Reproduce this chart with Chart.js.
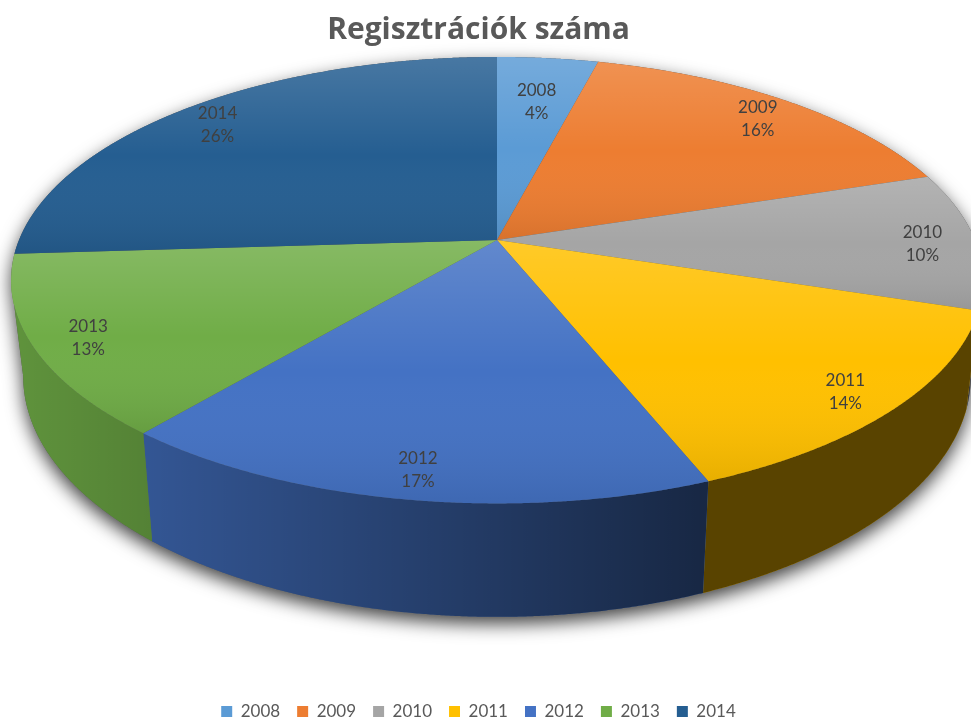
<!DOCTYPE html>
<html><head><meta charset="utf-8">
<script src="https://cdn.jsdelivr.net/npm/chart.js@4.4.1/dist/chart.umd.min.js"></script>
<style>html,body{margin:0;padding:0;background:#fff;overflow:hidden}#wrap{width:971px;height:720px;position:relative}</style>
</head><body><div id="wrap"><canvas id="c" width="971" height="720"></canvas></div>
<script>
// ---- data ----
const categories = ['2008', '2009', '2010', '2011', '2012', '2013', '2014'];
const shares = [4, 16, 10, 14, 17, 13, 26]; // percent of registrations
const sliceColors = ['#5B9BD5', '#ED7D31', '#A5A5A5', '#FFC000', '#4472C4', '#70AD47', '#255E91'];
const chartTitle = 'Regisztrációk száma';

// ---- 3D perspective projection applied to the arcs computed by Chart.js ----
const PROJ = {cx: 497, cy: 240, rx: 478, ry: 216, k: 0.18, depth: 93, bottomShrink: 0.975,
              labelR: 0.89, smallLabelR: 0.75, labelDy: 4};

function project(ang, r, t) {
  const u = r * Math.cos(ang), v = r * Math.sin(ang);
  const s = 1 / (1 - PROJ.k * v);
  const m = 1 - (1 - PROJ.bottomShrink) * t;
  return {x: PROJ.cx + PROJ.rx * u * s * m, y: PROJ.cy + PROJ.ry * v * s + PROJ.depth * s * t};
}
function rimPath(ctx, a0, a1, t, first) {
  const n = Math.max(2, Math.ceil(Math.abs(a1 - a0) / 0.004));
  for (let i = 0; i <= n; i++) {
    const a = a0 + (a1 - a0) * i / n;
    const p = project(a, 1, t);
    if (first && i === 0) ctx.moveTo(p.x, p.y); else ctx.lineTo(p.x, p.y);
  }
}

const pie3d = {
  id: 'pie3d',
  beforeDatasetDraw() { return false; },
  afterDatasetsDraw(chart) {
    const ctx = chart.ctx;
    const meta = chart.getDatasetMeta(0);
    const arcs = meta.data.map((el, i) => {
      const p = el.getProps(['startAngle', 'endAngle'], true);
      return {a0: p.startAngle, a1: p.endAngle, color: el.options.backgroundColor, i};
    });
    const tA = Math.asin(PROJ.k);          // silhouette tangent angles
    const tB = Math.PI - tA;
    ctx.save();
    // soft shadow under the body
    ctx.save();
    ctx.shadowColor = 'rgba(0,0,0,0.75)';
    ctx.shadowBlur = 18;
    ctx.shadowOffsetY = 7;
    ctx.fillStyle = '#555';
    ctx.beginPath();
    rimPath(ctx, tA, tB - 2 * Math.PI, 0, true);
    rimPath(ctx, tB, tA, 1, false);
    ctx.closePath();
    ctx.fill();
    ctx.restore();
    // side walls (visible front part only)
    const sideShade = ctx.createLinearGradient(12, 0, 700, 0);
    sideShade.addColorStop(0, 'rgba(0,0,0,0.15)');
    sideShade.addColorStop(1, 'rgba(0,0,0,0.65)');
    arcs.forEach(a => {
      const lo = Math.max(a.a0, tA), hi = Math.min(a.a1, tB);
      if (hi <= lo) return;
      ctx.beginPath();
      rimPath(ctx, lo, hi, 0, true);
      rimPath(ctx, hi, lo, 1, false);
      ctx.closePath();
      ctx.fillStyle = a.color; ctx.fill();
      ctx.fillStyle = sideShade; ctx.fill();
    });
    // top faces
    const c = project(0, 0, 0);
    arcs.forEach(a => {
      ctx.beginPath();
      ctx.moveTo(c.x, c.y);
      rimPath(ctx, a.a0, a.a1, 0, false);
      ctx.closePath();
      let ymin = c.y, ymax = c.y;
      for (let j = 0; j <= 60; j++) {
        const p = project(a.a0 + (a.a1 - a.a0) * j / 60, 1, 0);
        ymin = Math.min(ymin, p.y); ymax = Math.max(ymax, p.y);
      }
      ctx.fillStyle = a.color; ctx.fill();
      const g = ctx.createLinearGradient(0, ymin, 0, ymax);
      g.addColorStop(0, 'rgba(255,255,255,0.16)');
      g.addColorStop(0.5, 'rgba(255,255,255,0)');
      g.addColorStop(1, 'rgba(0,0,0,0.09)');
      ctx.fillStyle = g; ctx.fill();
    });
    // data labels
    ctx.fillStyle = '#404040';
    ctx.font = '17px Lato';
    ctx.textAlign = 'center';
    ctx.textBaseline = 'middle';
    const data = chart.data.datasets[0].data;
    arcs.forEach(a => {
      const mid = (a.a0 + a.a1) / 2;
      const r = (a.a1 - a.a0) < 0.35 ? PROJ.smallLabelR : PROJ.labelR;
      const p = project(mid, r, 0);
      ctx.fillText(chart.data.labels[a.i], p.x, p.y + PROJ.labelDy - 11.5);
      ctx.fillText(data[a.i] + '%', p.x, p.y + PROJ.labelDy + 11.5);
    });
    ctx.restore();
  }
};

new Chart(document.getElementById('c'), {
  type: 'pie',
  data: {
    labels: categories,
    datasets: [{data: shares, backgroundColor: sliceColors, borderWidth: 0}]
  },
  options: {
    responsive: false,
    animation: false,
    devicePixelRatio: 1,
    layout: {padding: {top: 0, right: 14, bottom: -10, left: 0}},
    plugins: {
      tooltip: {enabled: false},
      title: {display: true, text: chartTitle, color: '#595959',
        font: {family: 'Open Sans', size: 30, weight: 'bold', lineHeight: 1.2},
        padding: {top: 12, bottom: 10}},
      legend: {position: 'bottom',
        labels: {boxWidth: 11, boxHeight: 11, padding: 17, color: '#595959',
          font: {family: 'Lato', size: 17}}}
    }
  },
  plugins: [pie3d]
});
</script>
</body></html>
